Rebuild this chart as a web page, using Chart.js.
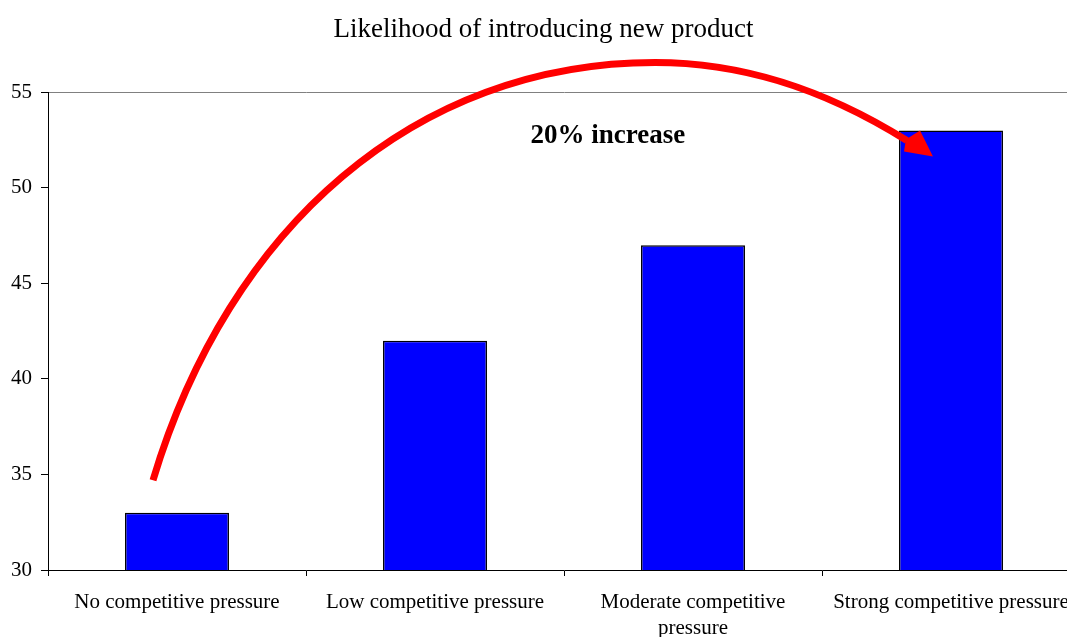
<!DOCTYPE html>
<html>
<head>
<meta charset="utf-8">
<script src="https://cdn.jsdelivr.net/npm/chart.js@4/dist/chart.umd.min.js"></script>
<style>
  html, body { margin: 0; padding: 0; background: #fff; overflow: hidden; }
  .chart-container { position: relative; width: 1086px; height: 637px; }
</style>
</head>
<body>
<div class="chart-container"><canvas class="chart"></canvas></div>
<script>
// bar data
var categories = [
  'No competitive pressure',
  'Low competitive pressure',
  ['Moderate competitive', 'pressure'],
  'Strong competitive pressure'
];
var likelihood = [33, 42, 47, 53];
var yTicks = [30, 35, 40, 45, 50, 55];

// red arrow: two cubic bezier pieces, (category index, value) units
// start, ctrl, ctrl, peak, ctrl, ctrl, end
var arrowCurve = [
  [-0.093, 34.70], [0.200, 47.92], [0.922, 56.57], [1.853, 56.57],
  [2.163, 56.57], [2.481, 55.42], [2.829, 52.48]
];
var arrowTip = [2.930, 51.64];
var arrowWings = [[2.880, 53.01], [2.818, 51.90]];
var noteText = '20% increase';
var notePos = [1.67, 52.74];

var serif = '"Liberation Serif", "Times New Roman", serif';

// draws the curved arrow and the note on top of the bars
var arrowPlugin = {
  id: 'arrow',
  afterDraw: function (chart) {
    var x = chart.scales.x, y = chart.scales.y, ctx = chart.ctx;
    var px = p => [x.getPixelForValue(p[0]), y.getPixelForValue(p[1])];
    var c = arrowCurve.map(px);
    ctx.save();
    ctx.strokeStyle = '#ff0000';
    ctx.fillStyle = '#ff0000';
    ctx.lineWidth = 7;
    ctx.beginPath();
    ctx.moveTo(c[0][0], c[0][1]);
    ctx.bezierCurveTo(c[1][0], c[1][1], c[2][0], c[2][1], c[3][0], c[3][1]);
    ctx.bezierCurveTo(c[4][0], c[4][1], c[5][0], c[5][1], c[6][0], c[6][1]);
    ctx.stroke();

    // arrow head
    var last = c[6];
    var tip = px(arrowTip), w1 = px(arrowWings[0]), w2 = px(arrowWings[1]);
    ctx.beginPath();
    ctx.moveTo(tip[0], tip[1]);
    ctx.lineTo(w1[0], w1[1]);
    ctx.lineTo(last[0] - 1, last[1] - 1);
    ctx.lineTo(w2[0], w2[1]);
    ctx.closePath();
    ctx.fill();

    ctx.fillStyle = '#000';
    ctx.font = 'bold 27px ' + serif;
    ctx.textAlign = 'center';
    ctx.textBaseline = 'middle';
    ctx.fillText(noteText, x.getPixelForValue(notePos[0]), y.getPixelForValue(notePos[1]));
    ctx.restore();
  }
};

var config = {
  type: 'bar',
  data: {
    labels: categories,
    datasets: [{
      data: likelihood,
      backgroundColor: '#0000ff',
      borderColor: '#000000',
      borderWidth: 1.5,
      categoryPercentage: 1,
      barPercentage: 0.403
    }]
  },
  options: {
    responsive: true,
    maintainAspectRatio: false,
    animation: false,
    layout: { padding: { left: 7, right: 6, top: 0, bottom: 0 } },
    plugins: {
      legend: { display: false },
      tooltip: { enabled: false },
      title: {
        display: true,
        text: 'Likelihood of introducing new product',
        color: '#000',
        font: { family: serif, size: 27, weight: 'normal', lineHeight: 1.2 },
        padding: { top: 14, bottom: 46 }
      }
    },
    scales: {
      x: {
        grid: {
          offset: true,
          drawOnChartArea: false,
          tickLength: 6,
          tickColor: '#000'
        },
        border: { color: '#000', width: 1 },
        ticks: {
          color: '#000',
          autoSkip: false,
          maxRotation: 0,
          padding: 13,
          font: { family: serif, size: 21, lineHeight: 1.25 }
        },
        afterFit: function (scale) { scale.height = 67; }
      },
      y: {
        min: 30,
        max: 55,
        afterBuildTicks: function (scale) {
          scale.ticks = yTicks.map(v => ({ value: v }));
        },
        grid: {
          color: ctx => (ctx.tick && ctx.tick.value === 55) ? '#808080' : 'rgba(0,0,0,0)',
          tickLength: 7,
          tickColor: '#000'
        },
        border: { color: '#000', width: 1 },
        ticks: {
          color: '#000',
          padding: 9,
          font: { family: serif, size: 21 }
        },
        afterFit: function (scale) { scale.width = 41; }
      }
    }
  },
  plugins: [arrowPlugin]
};

var myChart = new Chart(document.querySelector('.chart'), config);
</script>
</body>
</html>
